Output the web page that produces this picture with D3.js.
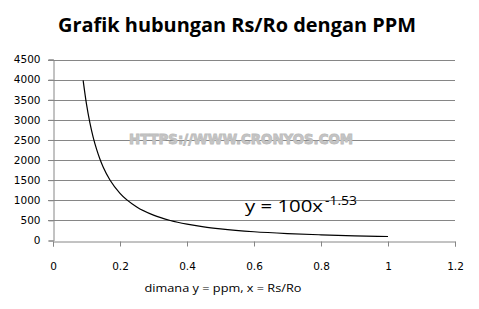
<!DOCTYPE html>
<html>
<head>
<meta charset="utf-8">
<script src="https://d3js.org/d3.v7.min.js"></script>
<style>
  body { margin: 0; background: #fff; }
  svg { display: block; }
</style>
</head>
<body>
<svg id="chart" width="479" height="309"></svg>
<script>
// values
var rsro = [0.09, 0.10, 0.11, 0.12, 0.13, 0.14, 0.15, 0.17, 0.20, 0.25, 0.30, 0.35, 0.40, 0.45, 0.50, 0.60, 0.70, 0.80, 0.90, 1.00];
var ppm  = [3980, 3390, 2930, 2565, 2270, 2025, 1820, 1505, 1173, 834, 631, 498, 406, 339, 289, 218, 173, 141, 117, 100];
var xTicks = [0, 0.2, 0.4, 0.6, 0.8, 1, 1.2];
var yTicks = [0, 500, 1000, 1500, 2000, 2500, 3000, 3500, 4000, 4500];

var titleText = "Grafik hubungan Rs/Ro dengan PPM";
var axisText = "dimana y = ppm, x = Rs/Ro";
var watermark = "HTTPS://WWW.CRONYOS.COM";

var svg = d3.select("#chart");

var x = d3.scaleLinear().domain([0, 1.2]).range([53, 455]),
    y = d3.scaleLinear().domain([0, 4500]).range([240.5, 59.5]);

var data = rsro.map(function(d, i) { return {x: d, y: ppm[i]}; });

// title
svg.append("text")
  .attr("x", 237).attr("y", 32)
  .attr("text-anchor", "middle")
  .attr("font-family", "Open Sans, sans-serif")
  .attr("font-weight", "bold")
  .attr("font-size", 20)
  .attr("textLength", 358)
  .attr("lengthAdjust", "spacingAndGlyphs")
  .text(titleText);

// gridlines
svg.append("g")
  .selectAll("line")
  .data(yTicks.slice(1))
  .enter().append("line")
    .attr("x1", 48).attr("x2", 455)
    .attr("y1", function(d) { return Math.round(y(d)) + 0.5; })
    .attr("y2", function(d) { return Math.round(y(d)) + 0.5; })
    .attr("stroke", "#868686");

// watermark
svg.append("text")
  .attr("x", 129).attr("y", 144)
  .attr("font-family", "DejaVu Sans, sans-serif")
  .attr("font-weight", "bold")
  .attr("font-size", 14)
  .attr("fill", "#c6c6c6")
  .attr("stroke", "#bdbdbd")
  .attr("stroke-width", 0.9)
  .attr("textLength", 224)
  .attr("lengthAdjust", "spacingAndGlyphs")
  .text(watermark);

// y axis
var yAxis = svg.append("g")
  .attr("transform", "translate(53.5,0)")
  .call(d3.axisLeft(y).tickValues(yTicks).tickSize(5).tickPadding(8).tickFormat(d3.format("d")));

// x axis
var xAxis = svg.append("g")
  .attr("transform", "translate(0," + (Math.round(y(0)) + 0.5) + ")")
  .call(d3.axisBottom(x).tickValues(xTicks).tickSize(5).tickPadding(16).tickFormat(function(d) { return d; }));

[yAxis, xAxis].forEach(function(g) {
  g.select(".domain").attr("stroke", "#868686");
  g.selectAll(".tick line").attr("stroke", "#868686");
  g.selectAll(".tick text")
    .attr("fill", "#000")
    .attr("font-family", "DejaVu Sans, sans-serif")
    .attr("font-size", 10.5);
});

// curve
var line = d3.line()
  .x(function(d) { return x(d.x); })
  .y(function(d) { return y(d.y); })
  .curve(d3.curveMonotoneX);

svg.append("path")
  .datum(data)
  .attr("fill", "none")
  .attr("stroke", "#000")
  .attr("stroke-width", 1.2)
  .attr("d", line);

// trendline equation
var eq = svg.append("text")
  .attr("x", 245).attr("y", 212)
  .attr("font-family", "Open Sans, sans-serif")
  .attr("font-size", 16)
  .attr("fill", "#000");
eq.append("tspan").attr("textLength", 78).attr("lengthAdjust", "spacingAndGlyphs").text("y = 100x");
eq.append("tspan").attr("dx", 2).attr("dy", -7).attr("font-size", 12)
  .attr("textLength", 32).attr("lengthAdjust", "spacingAndGlyphs").text("-1.53");

// axis title
svg.append("text")
  .attr("x", 223).attr("y", 292)
  .attr("text-anchor", "middle")
  .attr("font-family", "Open Sans, sans-serif")
  .attr("font-size", 11)
  .attr("textLength", 157)
  .attr("lengthAdjust", "spacingAndGlyphs")
  .text(axisText);
</script>
</body>
</html>
